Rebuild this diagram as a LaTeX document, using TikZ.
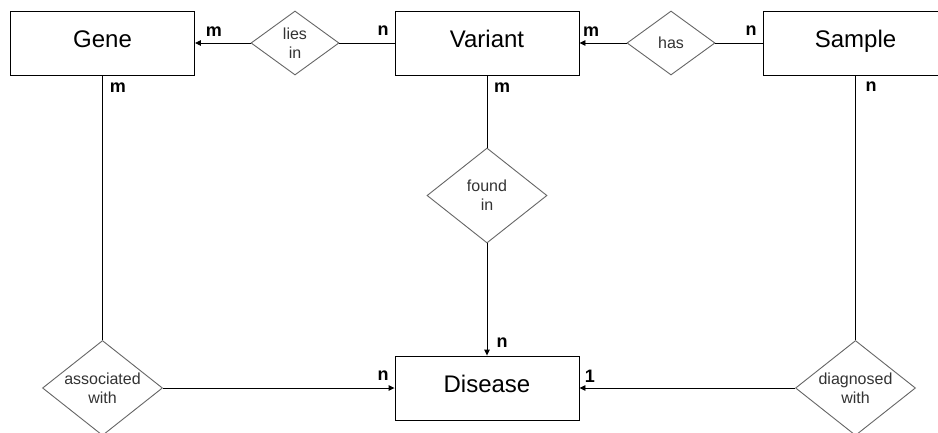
\documentclass[tikz,border=0pt]{standalone}
\usepackage{fontspec}
\setmainfont{Liberation Sans}
\usetikzlibrary{shapes.geometric,arrows.meta}
\begin{document}
\begin{tikzpicture}[x=1pt,y=-1pt,
  entity/.style={draw=black,line width=0.9pt,minimum width=184pt,minimum height=64pt,inner sep=0pt,text height=8pt,text depth=0pt,font=\fontsize{24}{27}\selectfont,text=black},
  reltext/.style={font=\fontsize{16}{19}\selectfont,text=black!80,align=center,inner sep=0pt},
  rel/.style={diamond,draw=black!60,line width=0.9pt,inner sep=0pt},
  small/.style={rel,minimum width=88pt,minimum height=64pt},
  big/.style={rel,minimum width=120pt,minimum height=95pt},
  conn/.style={draw=black,line width=0.9pt},
  arr/.style={conn,-{Triangle[length=6pt,width=5.5pt]}},
  card/.style={font=\fontsize{18}{20}\selectfont\bfseries,text=black,inner sep=0pt}]
\useasboundingbox (0,0) rectangle (938,432);
\clip (0,0) rectangle (938,432);
\fill[white] (0,0) rectangle (938,432);
% entities
\node[entity] (gene) at (102.5,43) {Gene};
\node[entity] (variant) at (487,43) {Variant};
\node[entity] (sample) at (855.5,43) {Sample};
\node[entity] (disease) at (487,388) {Disease};
% relationships
\node[small,label={[reltext]center:{lies\\in}}] (lies) at (295,43) {};
\node[small,label={[reltext]center:{has}}] (has) at (671,43) {};
\node[big,label={[reltext]center:{found\\in}}] (found) at (487,195.5) {};
\node[big,label={[reltext]center:{associated\\with}}] (assoc) at (102.5,388) {};
\node[big,label={[reltext]center:{diagnosed\\with}}] (diag) at (855.5,388) {};
% connectors
\draw[arr] (lies.west) -- (gene.east);
\draw[conn] (lies.east) -- (variant.west);
\draw[arr] (has.west) -- (variant.east);
\draw[conn] (has.east) -- (sample.west);
\draw[conn] (variant.south) -- (found.north);
\draw[arr] (found.south) -- (disease.north);
\draw[conn] (gene.south) -- (assoc.north);
\draw[arr] (assoc.east) -- (disease.west);
\draw[conn] (sample.south) -- (diag.north);
\draw[arr] (diag.west) -- (disease.east);
% cardinalities
\node[card] (c1) at (214,32) {m};
\node[card] (c2) at (383,31) {n};
\node[card] (c3) at (591,32) {m};
\node[card] (c4) at (751,31) {n};
\node[card] (c5) at (118,88) {m};
\node[card] (c6) at (502,88) {m};
\node[card] (c7) at (871,87) {n};
\node[card] (c8) at (502,343) {n};
\node[card] (c9) at (383,376) {n};
\node[card] (c10) at (590,376) {1};
\end{tikzpicture}
\end{document}
